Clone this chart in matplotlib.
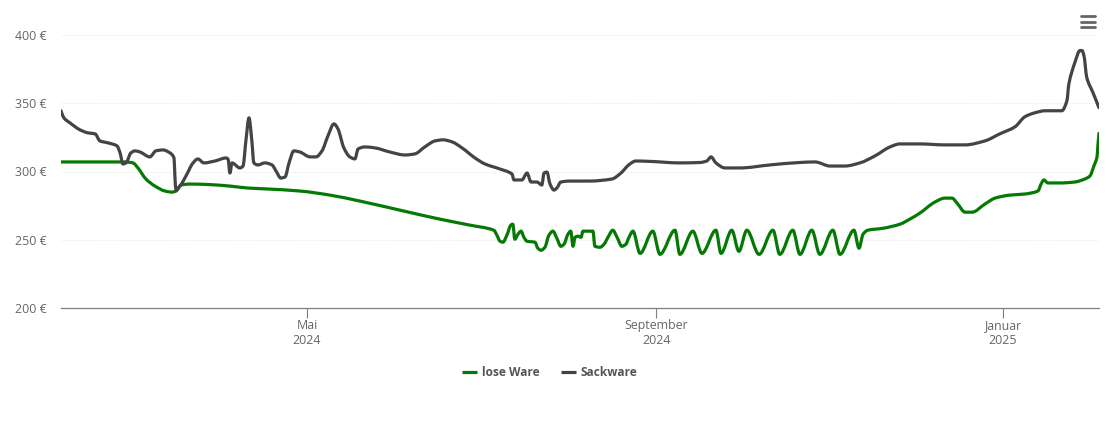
import numpy as np
import matplotlib
matplotlib.use("Agg")
import matplotlib.pyplot as plt
from matplotlib.lines import Line2D
from matplotlib.patches import PathPatch
from matplotlib.path import Path

plt.rcParams['font.family'] = ['Open Sans', 'DejaVu Sans']

# days counted from 1 May 2024, prices in euro
sack_days = [-86.6, -85.6, -83.5, -79.9, -77.1, -74.6, -72.9, -70.1, -66.9, -65.8, -64.8, -63.7, -62, -60.6, -58.8,
             -55.3, -53.2, -50.7, -48.2, -46.8, -46.5, -46.1, -44.7, -42.6, -40.1, -38.4, -36.3, -32.4, -28.5, -27.8,
             -27.1, -26.4, -23.6, -22.5, -21.5, -20.4, -19.4, -18.7, -17.3, -14.8, -12.3, -10.9, -9.2, -7.7, -6.3,
             -4.6, -2.5, 1.1, 3.2, 5.3, 7.4, 9.5, 10.9, 13, 15.1, 16.9, 18, 20.4, 23.9, 29.2, 34.5, 38, 41.5, 45.1,
             47.9, 51.1, 54.6, 59.2, 62.7, 68, 72.2, 72.9, 75.7, 77.5, 78.9, 81, 82.7, 83.5, 84.5, 85.6, 87, 88,
             89.4, 92.6, 99.6, 107.4, 110.2, 113.7, 115.8, 120.8, 131.3, 138.4, 140.8, 142.3, 144, 147.2, 152.5,
             163, 173.6, 178.9, 184.2, 189.4, 194.7, 200, 205.3, 208.8, 215.8, 224.6, 231.7, 238.7, 244, 249.3,
             252.8, 256.3, 259.9, 265.8, 267.6, 268.3, 270.4, 272.2, 272.9, 273.6, 274.6, 276.8, 278.9]
sack_price = [344.5, 339.3, 335.7, 330.5, 328.3, 327.6, 322.4, 321, 318.8, 313.6, 305.5, 306.3, 313.6, 315.1, 314.3,
              310.7, 315.1, 315.8, 313.6, 309.9, 296.7, 286.4, 289.3, 296.7, 306.3, 309.2, 306.3, 307.7, 309.9, 309.2,
              298.9, 306.3, 302.6, 304, 322.4, 339.3, 322.4, 306.3, 304.8, 306.3, 304.8, 300.4, 295.2, 296, 306.3,
              315.1, 314.3, 310.7, 310.7, 315.1, 326.1, 334.9, 331.3, 317.3, 310.7, 309.2, 316.5, 318, 317.3, 314.3,
              312.1, 312.9, 318, 322.4, 323.2, 321.7, 317.3, 309.9, 305.5, 301.8, 298.2, 293.8, 293.8, 298.9, 292.3,
              292.3, 290.1, 298.9, 299.6, 290.8, 286.4, 287.9, 292.3, 293, 293, 294.5, 298.2, 305.5, 307.7, 307.4,
              306.3, 306.6, 307.7, 310.7, 306.3, 302.6, 302.6, 304.8, 306.6, 307, 304, 304, 306.3, 311.4, 318, 320.2,
              320.2, 319.5, 319.5, 322.4, 327.6, 332.7, 340.1, 343, 344.5, 344.5, 351.8, 364.3, 379.8, 388.6, 388.6,
              384.9, 368.8, 357.7, 346.7]

lose_days = [-86.6, -64.1, -61.3, -59.5, -56.7, -53.5, -50, -47.5, -46.1, -44.4, -41.2, -34.2, -27.1, -20.8, -13, -2.5,
             8.1, 18.7, 32.7, 46.8, 57.4, 65.8, 66.9, 68, 69, 70.4, 71.8, 72.5, 73.2, 74.3, 75.4, 76.4, 77.5, 80.3,
             81.3, 82.4, 83.8, 85.2, 86.6, 88, 89.4, 90.5, 91.9, 92.9, 93.7, 94.4, 95.4, 96.5, 97.2, 100.7, 101.4,
             103.2, 104.6, 106, 107.7, 109.2, 110.9, 112.3, 113.4, 114.8, 117.3, 121.8, 124.3, 129.6, 131.3, 135.9,
             139.1, 144, 145.8, 149.6, 152.1, 154.9, 159.2, 164.1, 166.5, 171.1, 173.6, 177.8, 180.6, 185.2, 187.7,
             192.6, 194.4, 195.8, 197.5, 202.8, 208.8, 212.3, 215.8, 221.1, 224.6, 227.1, 229.2, 231.7, 234.2, 238.7,
             242.3, 247.5, 252.8, 257.4, 258.5, 259.5, 260.9, 265.1, 270.4, 273.9, 275.7, 277.1, 278.2, 278.5, 278.9]
lose_price = [307, 307, 306.3, 302.6, 294.5, 289.3, 285.7, 284.9, 285.7, 290.1, 290.8, 290.4, 289.3, 287.9, 287.1, 285.7,
              282.7, 278.3, 271.7, 265.1, 260.7, 257, 253.3, 248.9, 248.2, 253.3, 260.7, 261.4, 250.4, 254, 256.3, 251.8,
              248.9, 248.2, 243.8, 242.3, 244.5, 253.3, 256.3, 251.1, 245.2, 246.7, 254, 256.3, 245.2, 251.8, 252.6,
              251.8, 256.3, 256.3, 245.2, 244.5, 246.7, 251.8, 257, 251.8, 245.2, 246.7, 251.8, 256.3, 240, 256.3,
              239.3, 257, 239.3, 256.3, 240, 257, 240, 257, 241.5, 257, 239.3, 257, 239.3, 257, 239.3, 257, 239.3, 257,
              239.3, 257, 243.8, 254, 257, 258.4, 261.4, 265.1, 269.5, 277.6, 280.5, 280.5, 276.1, 270.2, 270.2, 276.1,
              280.5, 282.7, 283.5, 285.7, 290.8, 293.8, 291.6, 291.6, 292.3, 294.5, 296.7, 304, 310.7, 318.7, 328]

y_ticks = [200, 250, 300, 350, 400]
y_tick_labels = ['200 €', '250 €', '300 €', '350 €', '400 €']
x_ticks = [0, 123, 245]
x_tick_labels = ['Mai\n2024', 'September\n2024', 'Januar\n2025']

GREEN = '#047a04'
GREY = '#444447'


# spline through the read points, flat at every local peak and valley
def spline_path(x, y):
    x = np.array(x, dtype=float)
    y = np.array(y, dtype=float)
    h = np.diff(x)
    s = np.diff(y) / h
    m = np.zeros(len(x))
    for i in range(1, len(x) - 1):
        if s[i - 1] * s[i] > 0:
            m[i] = 2 * s[i - 1] * s[i] / (s[i - 1] + s[i])
    m[0], m[-1] = s[0], s[-1]
    verts = [(x[0], y[0])]
    for i in range(len(h)):
        verts.append((x[i] + h[i] / 3, y[i] + m[i] * h[i] / 3))
        verts.append((x[i + 1] - h[i] / 3, y[i + 1] - m[i + 1] * h[i] / 3))
        verts.append((x[i + 1], y[i + 1]))
    codes = [Path.MOVETO] + [Path.CURVE4] * (len(verts) - 1)
    return Path(verts, codes)


fig = plt.figure(figsize=(11.1, 4.22), dpi=100)
ax = fig.add_axes([61 / 1110, 114 / 422, 1038 / 1110, 273 / 422])

for days, price, color in [(lose_days, lose_price, GREEN), (sack_days, sack_price, GREY)]:
    ax.add_patch(PathPatch(spline_path(days, price), fill=False, edgecolor=color, lw=2.3,
                           capstyle='round', joinstyle='round', zorder=3))

ax.set_xlim(-86.6, 278.9)
ax.set_ylim(200, 400)
ax.set_yticks(y_ticks)
ax.set_yticklabels(y_tick_labels, va='center_baseline')
ax.set_xticks(x_ticks)
ax.set_xticklabels(x_tick_labels, linespacing=1.2)
ax.tick_params(axis='y', length=0, pad=10, labelsize=8.9, labelcolor='#666666')
ax.tick_params(axis='x', length=7.5, width=0.8, color='#7f7f7f', pad=0.5, labelsize=8.9, labelcolor='#666666')
ax.yaxis.grid(True, color='#e6e6e6', lw=0.8, ls=(0, (1, 1.5)))
ax.set_axisbelow(True)
for side in ['top', 'left', 'right']:
    ax.spines[side].set_visible(False)
ax.spines['bottom'].set_color('#7f7f7f')
ax.spines['bottom'].set_linewidth(0.9)

# legend
handles = [Line2D([], [], color=GREEN, lw=2.3, solid_capstyle='butt'),
           Line2D([], [], color=GREY, lw=2.3, solid_capstyle='butt')]
fig.legend(handles, ['lose Ware', 'Sackware'], ncol=2, frameon=False, loc='center',
           bbox_to_anchor=(550 / 1110, 1 - 373 / 422), handlelength=1.25, handletextpad=0.42, columnspacing=1.76,
           labelcolor='#555555', prop={'family': 'Open Sans', 'weight': 'bold', 'size': 8.6})

# menu icon
for y_px in [16, 21.5, 27]:
    fig.add_artist(Line2D([1081 / 1110, 1095 / 1110], [1 - y_px / 422] * 2, color='#666666', lw=2,
                          solid_capstyle='round'))

fig.savefig('out.png', dpi=100)
